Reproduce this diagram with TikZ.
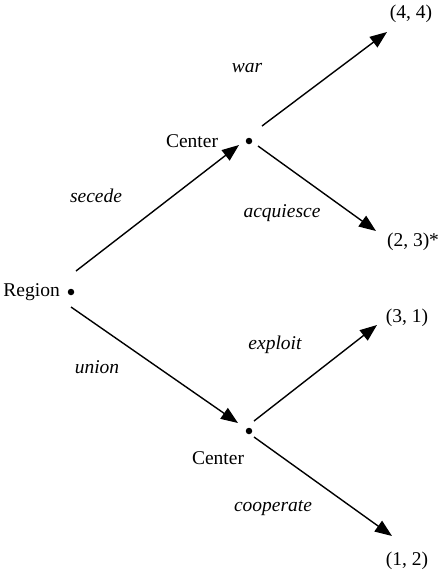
\documentclass[tikz,border=0pt]{standalone}
\usepackage{fontspec}
\setmainfont{Liberation Serif}
\usetikzlibrary{arrows.meta}
\begin{document}
\begin{tikzpicture}[x=1pt,y=-1pt,
  txt/.style={font=\fontsize{19.5}{23}\selectfont, inner sep=0pt},
  act/.style={txt, font=\fontsize{19.5}{23}\selectfont\itshape},
  dotnode/.style={circle, fill=black, inner sep=0pt, minimum size=6.5pt},
  arr/.style={line width=1.4pt, -{Triangle[length=17pt,width=13pt]}}]
\useasboundingbox (0,0) rectangle (445,574);
% decision points
\node[dotnode] (r) at (71,292) {};
\node[dotnode] (c1) at (249,141) {};
\node[dotnode] (c2) at (249,431) {};
\node[txt, anchor=east] (rl) at (60,292) {Region};
\node[txt] (c1l) at (192,141) {Center};
\node[txt] (c2l) at (218,458) {Center};
% outcomes
\node[txt] (o44) at (411,14) {(4, 4)};
\node[txt] (o23) at (413,242) {(2, 3)*};
\node[txt] (o31) at (407,318) {(3, 1)};
\node[txt] (o12) at (407,561) {(1, 2)};
% arrow ends
\coordinate (s1) at (76,271);  \coordinate (e1) at (239,145);
\coordinate (s2) at (71,307);  \coordinate (e2) at (238,423);
\coordinate (s3) at (262,126); \coordinate (e3) at (387,32);
\coordinate (s4) at (258,146); \coordinate (e4) at (376,231);
\coordinate (s5) at (254,421); \coordinate (e5) at (377,325);
\coordinate (s6) at (254,437); \coordinate (e6) at (392,536);
\draw[arr] (s1) -- (e1);
\draw[arr] (s2) -- (e2);
\draw[arr] (s3) -- (e3);
\draw[arr] (s4) -- (e4);
\draw[arr] (s5) -- (e5);
\draw[arr] (s6) -- (e6);
% action labels
\node[act] (la1) at (96,196) {secede};
\node[act] (la2) at (97,367) {union};
\node[act] (la3) at (247,68) {war};
\node[act] (la4) at (282,213) {acquiesce};
\node[act] (la5) at (275,345) {exploit};
\node[act] (la6) at (273,508) {cooperate};
\end{tikzpicture}
\end{document}
